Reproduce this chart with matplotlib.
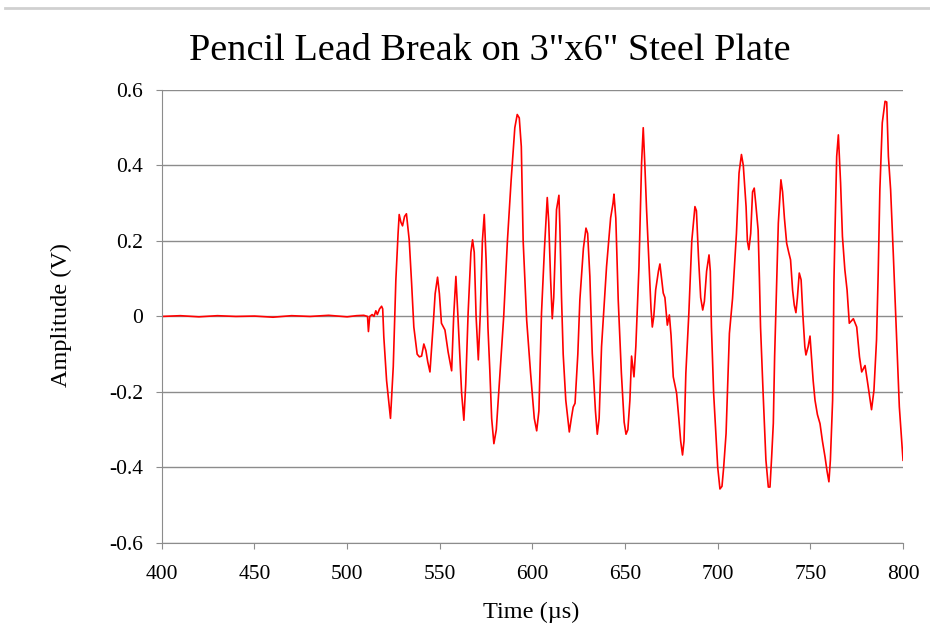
import matplotlib
matplotlib.use("Agg")
import matplotlib.pyplot as plt
from matplotlib.lines import Line2D

# waveform, time in microseconds, amplitude in volts
time_us = [400, 410, 420, 430, 440, 450, 460, 470, 480, 490, 500, 505, 509,
           511.0, 511.5, 512.2, 513.5, 514.5, 515.5, 516.3, 517.5, 518.6, 519.2,
           519.8, 521.3, 523.4, 524.3, 524.9, 526.3, 527.5, 528.1, 529.0, 529.9,
           531.0, 532.0, 533.5, 534.8, 536.0, 537.8, 539.0, 540.2, 541.4, 542.5,
           543.5, 544.7, 546.5, 547.5, 548.8, 549.8, 550.9, 552.8, 554.5, 556.4,
           557.5, 558.7, 559.8, 561.8, 563.0, 564.0, 565.3, 566.8, 567.7, 568.6,
           569.6, 570.8, 571.8, 573.0, 574.0, 575.0, 576.0, 577.0, 578.0, 579.2,
           580.5, 582.5, 584.5, 586.5, 588.5, 590.5, 591.8, 592.9, 594.0, 595.0,
           596.9, 599.0, 601.0, 602.3, 603.5, 604.9, 606.5, 608.0, 608.8, 609.8,
           610.7, 611.5, 613.0, 614.3, 614.8, 615.7, 616.6, 618.0, 619.9, 621.0,
           622.0, 623.0, 624.5, 625.6, 627.5, 628.9, 629.8, 631.0, 632.3, 634.0,
           635.0, 636.0, 637.3, 640.0, 642.2, 643.5, 644.0, 645.0, 646.3, 648.0,
           649.5, 650.5, 651.5, 652.6, 653.5, 654.8, 655.8, 657.5, 658.9, 659.8,
           660.7, 661.6, 663.0, 664.0, 664.7, 665.5, 666.5, 668.0, 668.8, 669.5,
           670.6, 671.5, 672.8, 673.9, 674.8, 676.0, 677.8, 679.0, 680.0, 681.0,
           681.8, 682.8, 684.4, 686.0, 687.7, 688.5, 689.6, 690.8, 691.9, 692.8,
           694.0, 695.3, 696.0, 696.6, 697.8, 700.0, 701.2, 702.3, 703.2, 704.5,
           706.3, 708.0, 710.1, 711.5, 712.8, 713.8, 715.3, 716.0, 716.8, 717.8,
           718.8, 719.7, 720.5, 721.8, 722.5, 723.1, 724.5, 726.0, 727.3, 728.2,
           729.1, 730.0, 730.7, 731.8, 732.7, 734.1, 735.0, 736.0, 737.2, 738.3,
           739.3, 740.4, 741.3, 742.2, 743.0, 744.0, 745.0, 746.0, 747.0, 747.6,
           748.8, 749.8, 750.5, 751.5, 752.5, 753.8, 755.2, 756.5, 757.9, 759.0,
           760.0, 760.8, 762.0, 762.4, 762.7, 763.3, 764.2, 765.1, 766.3, 767.3,
           768.6, 769.8, 771.0, 773.2, 775.0, 776.5, 777.7, 779.5, 780.9, 783.0,
           784.3, 785.7, 786.6, 787.5, 788.8, 790.3, 791.2, 792.1, 793.3, 794.8,
           796.2, 798.0, 800.0]
amplitude_v = [0.0, 0.002, -0.001, 0.002, 0.0, 0.001, -0.002, 0.002, 0.0, 0.003, -0.001, 0.002, 0.003,
               0.0, -0.04, 0.0, 0.005, 0.0, 0.015, 0.005, 0.02, 0.027, 0.02,
               -0.054, -0.17, -0.27, -0.186, -0.133, 0.097, 0.22, 0.27, 0.25, 0.24,
               0.265, 0.272, 0.203, 0.088, -0.028, -0.10, -0.107, -0.105, -0.073, -0.09,
               -0.12, -0.147, -0.018, 0.06, 0.104, 0.06, -0.018, -0.036, -0.094, -0.144,
               0.0, 0.106, 0.0, -0.204, -0.275, -0.18, 0.009, 0.17, 0.203, 0.17,
               0.0, -0.115, 0.0, 0.2, 0.27, 0.15, -0.03, -0.142, -0.27, -0.337,
               -0.3, -0.15, 0.0, 0.2, 0.36, 0.5, 0.535, 0.526, 0.45, 0.2,
               -0.01, -0.15, -0.27, -0.303, -0.25, 0.009, 0.18, 0.315, 0.25, 0.1,
               -0.006, 0.05, 0.283, 0.321, 0.24, 0.05, -0.1, -0.222, -0.306, -0.27,
               -0.24, -0.23, -0.1, 0.044, 0.18, 0.234, 0.22, 0.106, -0.098, -0.25,
               -0.312, -0.27, -0.08, 0.132, 0.261, 0.30, 0.324, 0.26, 0.044, -0.15,
               -0.28, -0.312, -0.3, -0.222, -0.105, -0.16, -0.08, 0.132, 0.406, 0.5,
               0.398, 0.283, 0.13, 0.02, -0.028, 0.0, 0.07, 0.12, 0.139, 0.11,
               0.062, 0.05, -0.023, 0.004, -0.05, -0.16, -0.203, -0.27, -0.33, -0.367,
               -0.33, -0.15, 0.007, 0.2, 0.291, 0.28, 0.159, 0.05, 0.017, 0.04,
               0.12, 0.163, 0.12, -0.028, -0.204, -0.4, -0.457, -0.45, -0.4, -0.31,
               -0.045, 0.048, 0.22, 0.38, 0.429, 0.4, 0.291, 0.2, 0.177, 0.22,
               0.33, 0.34, 0.3, 0.229, 0.1, -0.028, -0.204, -0.38, -0.452, -0.452,
               -0.372, -0.283, -0.107, 0.088, 0.247, 0.362, 0.33, 0.26, 0.194, 0.17,
               0.15, 0.07, 0.03, 0.01, 0.05, 0.115, 0.097, 0.0, -0.08, -0.102,
               -0.08, -0.052, -0.1, -0.17, -0.222, -0.26, -0.284, -0.33, -0.372, -0.41,
               -0.438, -0.38, -0.222, -0.07, 0.09, 0.23, 0.424, 0.481, 0.354, 0.212,
               0.124, 0.07, -0.018, -0.006, -0.028, -0.107, -0.147, -0.13, -0.176, -0.247,
               -0.196, -0.062, 0.115, 0.336, 0.513, 0.57, 0.568, 0.424, 0.336, 0.159,
               -0.017, -0.239, -0.381]

x_ticks = [400, 450, 500, 550, 600, 650, 700, 750, 800]
y_ticks = [-0.6, -0.4, -0.2, 0, 0.2, 0.4, 0.6]
y_tick_labels = ["-0.6", "-0.4", "-0.2", "0", "0.2", "0.4", "0.6"]

plt.rcParams["font.family"] = ["Liberation Serif", "DejaVu Serif"]

fig = plt.figure(figsize=(9.3, 6.38), dpi=100)
ax = fig.add_axes([0.174, 0.149, 0.797, 0.710])

ax.plot(time_us, amplitude_v, color="#ff0000", linewidth=1.2)

ax.set_xlim(400, 800)
ax.set_ylim(-0.6, 0.6)
ax.set_xticks(x_ticks)
ax.set_yticks(y_ticks)
ax.set_yticklabels(y_tick_labels)

ax.grid(axis="y", color="#8c8c8c", linewidth=1)
ax.set_axisbelow(True)
for side in ["top", "right"]:
    ax.spines[side].set_visible(False)
for side in ["left", "bottom"]:
    ax.spines[side].set_color("#8c8c8c")
ax.tick_params(axis="both", colors="#8c8c8c", labelcolor="black", labelsize=15.5, length=4.5)
ax.tick_params(axis="y", pad=9)
ax.tick_params(axis="x", pad=11.5)

# axis titles and chart title placed by hand to match the reference
fig.text(61 / 930, 1 - 315 / 638, "Amplitude (V)", fontsize=17.5, rotation=90,
         ha="center", va="center")
fig.text(531 / 930, 1 - 618 / 638, "Time (µs)", fontsize=17.5,
         ha="center", va="baseline")
fig.text(490 / 930, 1 - 60 / 638, 'Pencil Lead Break on 3"x6" Steel Plate', fontsize=27.5,
         ha="center", va="baseline")

# thin gray rule at the very top of the picture
fig.add_artist(Line2D([0.005, 1.0], [0.988, 0.988], color="#d0d0d0", linewidth=2,
                      transform=fig.transFigure))

fig.savefig("out.png", dpi=100, facecolor="white")
